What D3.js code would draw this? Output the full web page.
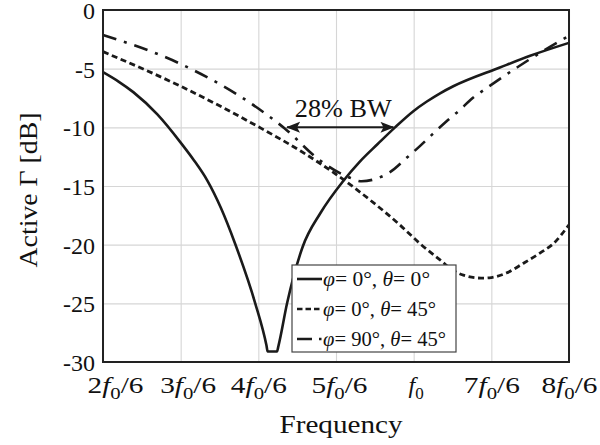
<!DOCTYPE html>
<html>
<head>
<meta charset="utf-8">
<script src="https://cdn.jsdelivr.net/npm/d3@7"></script>
<style>
  html, body { margin: 0; padding: 0; background: #fff; }
  svg { display: block; }
  svg text { font-family: "Liberation Serif", "Times New Roman", serif; }
</style>
</head>
<body>
<svg id="chart" width="600" height="445"></svg>
<script>
// Frequency axis in units of f0/6
const xTicks = [2, 3, 4, 5, 6, 7, 8];
const xTickLabels = ["2f0/6", "3f0/6", "4f0/6", "5f0/6", "f0", "7f0/6", "8f0/6"];
const yTicks = [0, -5, -10, -15, -20, -25, -30];

// phi = 0, theta = 0
const freqA = [2.00, 2.20, 2.39, 2.70, 3.00, 3.17, 3.34, 3.52, 3.70, 3.96, 4.105, 4.12, 4.24, 4.26, 4.37, 4.57, 4.80, 5.09, 5.31, 5.54, 5.76, 6.00, 6.17, 6.34, 6.51, 7.11, 7.50, 8.00];
const gammaA = [-5.3, -6.1, -7.0, -8.9, -11.3, -12.8, -14.5, -16.9, -19.9, -25.0, -28.6, -29.1, -29.1, -28.6, -25.0, -20.2, -17.3, -14.6, -12.9, -11.4, -10.0, -8.6, -7.8, -7.1, -6.5, -4.9, -3.9, -2.8];

// phi = 0, theta = 45
const freqB = [2.00, 3.00, 4.00, 4.54, 5.00, 5.44, 5.82, 6.08, 6.34, 6.51, 6.64, 6.87, 7.00, 7.20, 7.41, 7.63, 7.80, 8.00];
const gammaB = [-3.55, -6.5, -9.95, -12.0, -14.0, -16.2, -18.3, -19.9, -21.3, -22.2, -22.6, -22.85, -22.8, -22.4, -21.6, -20.7, -19.9, -18.3];

// phi = 90, theta = 45
const freqC = [2.00, 3.00, 4.00, 4.34, 4.79, 5.18, 5.33, 5.53, 5.70, 5.91, 6.08, 6.24, 6.42, 6.58, 6.76, 6.94, 7.33, 7.69, 8.00];
const gammaC = [-2.13, -4.6, -8.4, -10.1, -12.8, -14.3, -14.6, -14.35, -13.8, -12.6, -11.6, -10.6, -9.5, -8.6, -7.5, -6.65, -4.9, -3.4, -2.2];

// -10 dB bandwidth marker
const bwStart = 4.37, bwEnd = 5.74, bwLevel = -10;
const bwText = "28% BW";

const legendLabels = [
  ["φ", "= 0°, ", "θ", "= 0°"],
  ["φ", "= 0°, ", "θ", "= 45°"],
  ["φ", "= 90°, ", "θ", "= 45°"]
];
const dashes = [null, "6,3.6", "14,8,3,8"];
const legendDashes = [null, "5.5,3", "15,7,2.5,10"];

const svg = d3.select("#chart");
const plotL = 103, plotR = 569, plotT = 10, plotB = 362;
const ink = "#1a1a1a";

const x = d3.scaleLinear().domain([2, 8]).range([plotL, plotR]);
const y = d3.scaleLinear().domain([-30, 0]).range([plotB, plotT]);

// grid
const gx = svg.append("g").attr("transform", `translate(0,${plotB})`)
  .call(d3.axisBottom(x).tickValues(xTicks).tickSize(-(plotB - plotT)).tickFormat(""));
gx.attr("font-family", null).attr("font-size", null);
gx.select(".domain").remove();
gx.selectAll("line").attr("stroke", "#d6d6d6").attr("stroke-width", 1.1);

const gy = svg.append("g").attr("transform", `translate(${plotL},0)`)
  .call(d3.axisLeft(y).tickValues(yTicks).tickSize(-(plotR - plotL)).tickFormat(d => d));
gy.attr("font-family", null).attr("font-size", null);
gy.select(".domain").remove();
gy.selectAll("line").attr("stroke", "#d6d6d6").attr("stroke-width", 1.1);
gy.selectAll("text")
  .attr("x", -8).attr("dy", "0.35em")
  .attr("font-size", 24).attr("fill", "#111");

// x tick labels with italic f and subscript 0
const labelShift = [12, 7, 0, 3, 2, 0, 0];
gx.selectAll(".tick").each(function (d, i) {
  const lab = xTickLabels[i];
  const parts = lab.split("f0");
  const t = d3.select(this).append("text")
    .attr("x", labelShift[i]).attr("y", 31)
    .attr("text-anchor", "middle")
    .attr("font-size", 24).attr("fill", "#111");
  if (parts[1]) t.attr("textLength", 56).attr("lengthAdjust", "spacingAndGlyphs");
  if (parts[0]) t.append("tspan").text(parts[0]);
  t.append("tspan").attr("font-style", "italic").text("f");
  t.append("tspan").attr("font-size", 17).attr("dy", 6).text("0");
  t.append("tspan").attr("dy", -6).text(parts[1] || "");
});

// curves
const line = d3.line().x(d => x(d[0])).y(d => y(d[1])).curve(d3.curveMonotoneX);
const series = [
  d3.zip(freqA, gammaA),
  d3.zip(freqB, gammaB),
  d3.zip(freqC, gammaC)
];
series.forEach((s, i) => {
  svg.append("path")
    .datum(s)
    .attr("d", line)
    .attr("fill", "none")
    .attr("stroke", ink)
    .attr("stroke-width", i === 1 ? 2.8 : 2.6)
    .attr("stroke-dasharray", dashes[i]);
});

// bandwidth arrow
const defs = svg.append("defs");
["start", "end"].forEach(k => {
  defs.append("marker")
    .attr("id", "arrow-" + k)
    .attr("markerUnits", "userSpaceOnUse")
    .attr("markerWidth", 16).attr("markerHeight", 12)
    .attr("refX", 13).attr("refY", 5.5)
    .attr("orient", k === "start" ? "auto-start-reverse" : "auto")
    .append("path")
    .attr("d", "M0,0 L14,5.5 L0,11 L3,5.5 Z")
    .attr("fill", ink);
});
svg.append("line")
  .attr("x1", x(bwStart)).attr("x2", x(bwEnd))
  .attr("y1", y(bwLevel)).attr("y2", y(bwLevel))
  .attr("stroke", ink).attr("stroke-width", 2)
  .attr("marker-start", "url(#arrow-start)")
  .attr("marker-end", "url(#arrow-end)");
svg.append("text")
  .attr("x", (x(bwStart) + x(bwEnd)) / 2 + 3)
  .attr("y", y(bwLevel) - 10)
  .attr("text-anchor", "middle")
  .attr("font-size", 25).attr("fill", "#111")
  .attr("textLength", 97).attr("lengthAdjust", "spacingAndGlyphs")
  .text(bwText);

// frame
svg.append("rect")
  .attr("x", plotL).attr("y", plotT)
  .attr("width", plotR - plotL).attr("height", plotB - plotT)
  .attr("fill", "none").attr("stroke", "#222").attr("stroke-width", 2);

// legend
const legendWidths = [107, 113, 123];
const lg = svg.append("g").attr("transform", "translate(292,265)");
lg.append("rect")
  .attr("width", 164).attr("height", 87)
  .attr("fill", "#fff").attr("stroke", "#444").attr("stroke-width", 1.2);
legendLabels.forEach((lab, i) => {
  const cy = 14 + i * 30;
  lg.append("line")
    .attr("x1", 5).attr("x2", 30).attr("y1", cy).attr("y2", cy)
    .attr("stroke", ink).attr("stroke-width", 2.6)
    .attr("stroke-dasharray", legendDashes[i]);
  const t = lg.append("text")
    .attr("x", 31).attr("y", cy + 7)
    .attr("font-size", 20).attr("fill", "#111")
    .attr("textLength", legendWidths[i]).attr("lengthAdjust", "spacingAndGlyphs");
  t.append("tspan").attr("font-style", "italic").text(lab[0]);
  t.append("tspan").text(lab[1]);
  t.append("tspan").attr("font-style", "italic").text(lab[2]);
  t.append("tspan").text(lab[3]);
});

// axis titles
svg.append("text")
  .attr("x", 341).attr("y", 433)
  .attr("text-anchor", "middle")
  .attr("font-size", 25).attr("fill", "#111")
  .attr("textLength", 123).attr("lengthAdjust", "spacingAndGlyphs")
  .text("Frequency");
svg.append("text")
  .attr("transform", "translate(37,190) rotate(-90)")
  .attr("text-anchor", "middle")
  .attr("font-size", 25).attr("fill", "#111")
  .attr("textLength", 155).attr("lengthAdjust", "spacingAndGlyphs")
  .text("Active Γ [dB]");
</script>
</body>
</html>
